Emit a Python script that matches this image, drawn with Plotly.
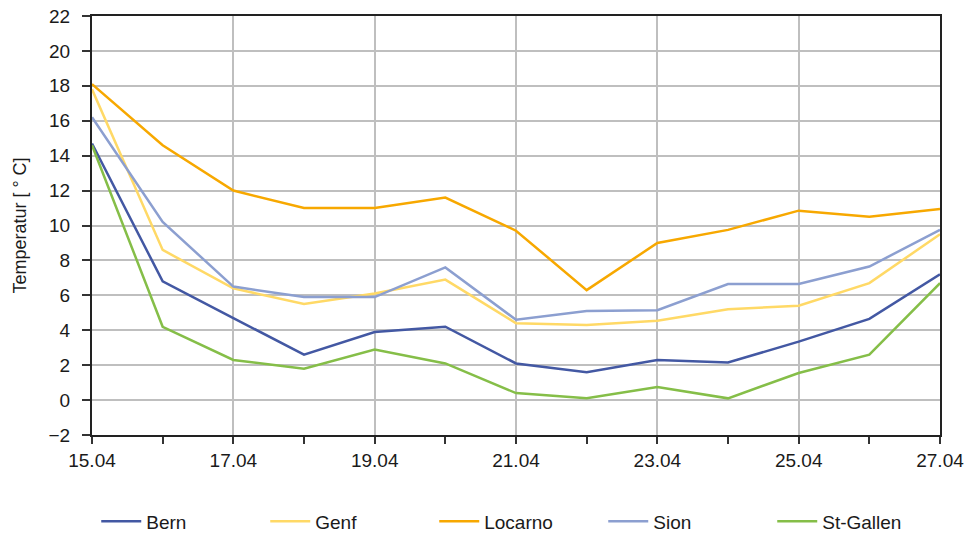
import plotly.graph_objects as go

days = [15, 16, 17, 18, 19, 20, 21, 22, 23, 24, 25, 26, 27]
tick_vals = [15, 17, 19, 21, 23, 25, 27]
tick_text = ["15.04", "17.04", "19.04", "21.04", "23.04", "25.04", "27.04"]

bern = [14.7, 6.8, 4.7, 2.6, 3.9, 4.2, 2.1, 1.6, 2.3, 2.15, 3.35, 4.65, 7.2]
genf = [17.8, 8.6, 6.4, 5.5, 6.1, 6.9, 4.4, 4.3, 4.55, 5.2, 5.4, 6.7, 9.5]
locarno = [18.1, 14.6, 12.0, 11.0, 11.0, 11.6, 9.7, 6.3, 9.0, 9.75, 10.85, 10.5, 10.95]
sion = [16.2, 10.2, 6.5, 5.9, 5.9, 7.6, 4.6, 5.1, 5.15, 6.65, 6.65, 7.65, 9.75]
st_gallen = [14.6, 4.2, 2.3, 1.8, 2.9, 2.1, 0.4, 0.1, 0.75, 0.1, 1.55, 2.6, 6.7]

series = [
    ("Bern", bern, "#4358A3"),
    ("Genf", genf, "#FFD966"),
    ("Locarno", locarno, "#F7A800"),
    ("Sion", sion, "#8C9FD0"),
    ("St-Gallen", st_gallen, "#85BE48"),
]

fig = go.Figure()
for name, vals, color in series:
    fig.add_trace(go.Scatter(x=days, y=vals, mode="lines", name=name,
                             line=dict(color=color, width=2.5)))

font_family = "Liberation Sans, Arial, sans-serif"
fig.update_layout(
    width=970, height=534,
    margin=dict(l=92, r=30, t=16, b=99, autoexpand=False),
    paper_bgcolor="white", plot_bgcolor="white",
    font=dict(family=font_family, size=19, color="#1a1a1a"),
    showlegend=True,
    legend=dict(orientation="h", x=0.005, xanchor="left", y=-0.161, yanchor="top",
                entrywidth=114, entrywidthmode="pixels", itemwidth=40,
                font=dict(size=19, family=font_family)),
    xaxis=dict(
        range=[15, 27], tickvals=tick_vals, ticktext=tick_text,
        showgrid=True, gridcolor="#BFBFBF", gridwidth=1.5,
        ticks="outside", ticklen=7, tickcolor="#333", tickwidth=1.5,
        showline=True, linecolor="#222", linewidth=2, mirror=True,
        minor=dict(tickvals=days, ticks="outside", ticklen=7, tickcolor="#333", showgrid=False),
        tickfont=dict(size=19), zeroline=False, automargin=False,
    ),
    yaxis=dict(
        range=[-2, 22], dtick=2, tick0=0,
        showgrid=True, gridcolor="#BFBFBF", gridwidth=1.5,
        ticks="outside", ticklen=8, tickcolor="#333", tickwidth=1.5,
        showline=True, linecolor="#222", linewidth=2, mirror=True,
        tickfont=dict(size=19), zeroline=False, automargin=False,
        ticklabelstandoff=8,
        title=dict(text="Temperatur [ ° C]", font=dict(size=18), standoff=17),
    ),
)

fig.write_html("out.html", config={"displayModeBar": False},
               post_script="document.body.style.margin='0px';")
